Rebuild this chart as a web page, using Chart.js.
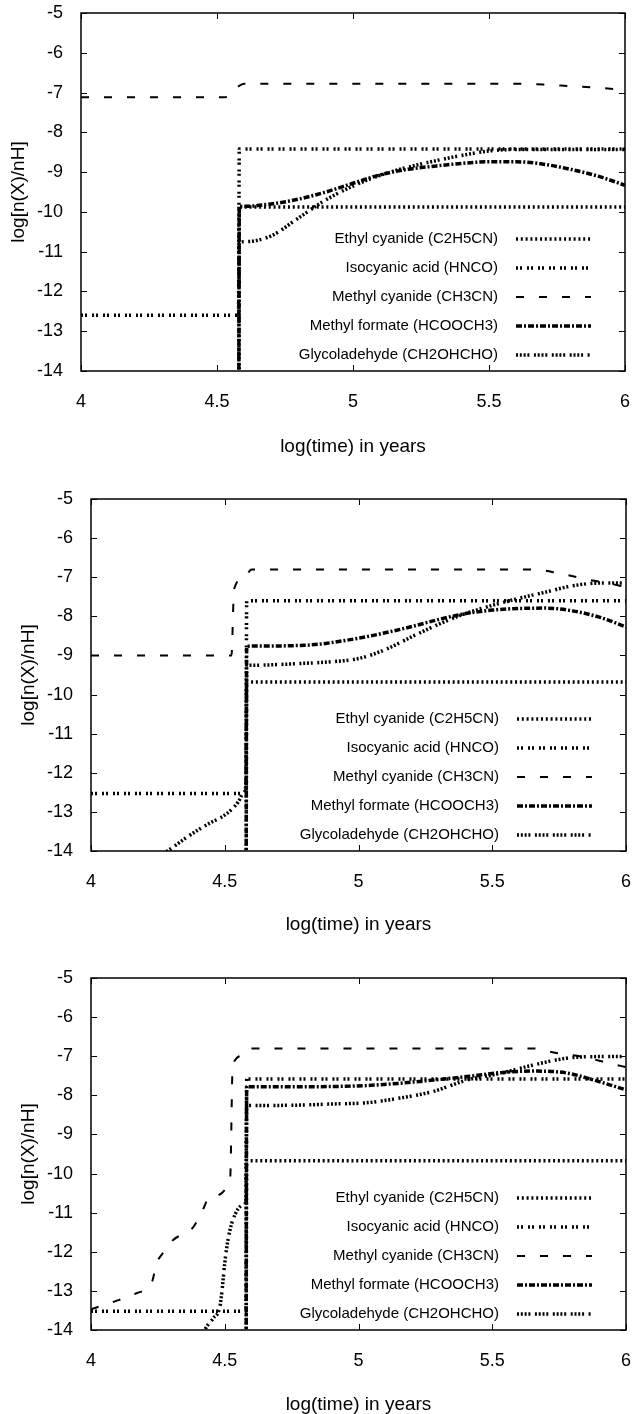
<!DOCTYPE html>
<html>
<head>
<meta charset="utf-8">
<script src="https://cdn.jsdelivr.net/npm/chart.js@4.4.0/dist/chart.umd.min.js"></script>
<style>
  html, body { margin: 0; padding: 0; background: #fff; }
  body { width: 636px; height: 1414px; position: relative; overflow: hidden; }
  .panel { position: absolute; left: 0; width: 636px; }
  canvas { display: block; }
</style>
</head>
<body>
<div class="panel" style="top:0;height:470px"><canvas id="chart1"></canvas></div>
<div class="panel" style="top:470px;height:470px"><canvas id="chart2"></canvas></div>
<div class="panel" style="top:940px;height:480px"><canvas id="chart3"></canvas></div>
<script>
// species names, in the key order
const SPECIES = [
  "Ethyl cyanide (C2H5CN)",
  "Isocyanic acid (HNCO)",
  "Methyl cyanide (CH3CN)",
  "Methyl formate (HCOOCH3)",
  "Glycoladehyde (CH2OHCHO)"
];
const X_TICKS = [4, 4.5, 5, 5.5, 6];
const Y_TICKS = [-14, -13, -12, -11, -10, -9, -8, -7, -6, -5];
const X_TITLE = "log(time) in years";
const Y_TITLE = "log[n(X)/nH]";

// top panel
const P1_C2H5CN_X = [4.579, 4.582, 6.0];
const P1_C2H5CN_Y = [-20, -9.88, -9.88];
const P1_HNCO_X = [4.0, 4.579, 4.582, 6.0];
const P1_HNCO_Y = [-12.6, -12.6, -8.42, -8.42];
const P1_CH3CN_X = [4.0, 4.53, 4.55, 4.575, 4.6, 5.6, 5.7, 5.8, 5.9, 6.0];
const P1_CH3CN_Y = [-7.12, -7.12, -7.0, -6.86, -6.78, -6.78, -6.8, -6.84, -6.88, -6.93];
const P1_HCOOCH3_X = [4.579, 4.582, 4.6, 4.7, 4.8, 4.9, 5.0, 5.1, 5.2, 5.3, 5.4, 5.5, 5.6, 5.7, 5.8, 5.9, 6.0];
const P1_HCOOCH3_Y = [-20, -9.87, -9.86, -9.8, -9.68, -9.5, -9.28, -9.07, -8.93, -8.85, -8.78, -8.74, -8.74, -8.8, -8.93, -9.1, -9.33];
const P1_CH2OHCHO_X = [4.579, 4.582, 4.6, 4.7, 4.8, 4.9, 5.0, 5.1, 5.2, 5.3, 5.4, 5.5, 5.6, 6.0];
const P1_CH2OHCHO_Y = [-20, -10.78, -10.75, -10.6, -10.15, -9.7, -9.35, -9.08, -8.88, -8.72, -8.58, -8.47, -8.43, -8.43];

// middle panel
const P2_C2H5CN_X = [4.579, 4.582, 6.0];
const P2_C2H5CN_Y = [-20, -9.68, -9.68];
const P2_HNCO_X = [4.0, 4.579, 4.582, 6.0];
const P2_HNCO_Y = [-12.53, -12.53, -7.6, -7.6];
const P2_CH3CN_X = [4.0, 4.525, 4.535, 4.575, 4.6, 5.65, 5.75, 5.85, 5.93, 6.0];
const P2_CH3CN_Y = [-9.0, -9.0, -7.3, -7.0, -6.8, -6.8, -6.9, -7.05, -7.15, -7.25];
const P2_HCOOCH3_X = [4.579, 4.582, 4.6, 4.8, 5.0, 5.1, 5.2, 5.3, 5.4, 5.5, 5.6, 5.7, 5.8, 5.9, 6.0];
const P2_HCOOCH3_Y = [-20, -8.78, -8.76, -8.74, -8.56, -8.42, -8.26, -8.08, -7.93, -7.84, -7.8, -7.79, -7.86, -8.02, -8.27];
const P2_CH2OHCHO_X = [4.2, 4.29, 4.36, 4.43, 4.51, 4.55, 4.57, 4.579, 4.582, 4.6, 4.8, 4.9, 5.0, 5.1, 5.2, 5.3, 5.4, 5.5, 5.6, 5.7, 5.8, 5.9, 6.0];
const P2_CH2OHCHO_Y = [-14.35, -13.98, -13.64, -13.34, -13.03, -12.75, -12.52, -12.3, -9.27, -9.25, -9.2, -9.16, -9.08, -8.85, -8.52, -8.2, -7.93, -7.72, -7.54, -7.38, -7.22, -7.15, -7.15];

// bottom panel
const P3_C2H5CN_X = [4.579, 4.582, 6.0];
const P3_C2H5CN_Y = [-20, -9.67, -9.67];
const P3_HNCO_X = [4.0, 4.579, 4.582, 6.0];
const P3_HNCO_Y = [-13.52, -13.52, -7.58, -7.58];
const P3_CH3CN_X = [4.0, 4.097, 4.17, 4.228, 4.245, 4.264, 4.307, 4.38, 4.413, 4.445, 4.52, 4.53, 4.575, 4.6, 5.65, 5.74, 5.84, 5.95, 6.0];
const P3_CH3CN_Y = [-13.47, -13.25, -13.06, -12.77, -12.29, -12.08, -11.7, -11.39, -11.0, -10.6, -10.15, -7.2, -6.97, -6.8, -6.8, -6.92, -7.02, -7.2, -7.28];
const P3_HCOOCH3_X = [4.579, 4.582, 4.6, 4.78, 5.03, 5.155, 5.28, 5.405, 5.53, 5.65, 5.78, 5.88, 6.0];
const P3_HCOOCH3_Y = [-20, -7.78, -7.78, -7.78, -7.75, -7.69, -7.61, -7.52, -7.42, -7.38, -7.43, -7.61, -7.86];
const P3_CH2OHCHO_X = [4.4, 4.426, 4.457, 4.482, 4.49, 4.5, 4.512, 4.53, 4.57, 4.579, 4.582, 4.6, 4.78, 4.905, 5.03, 5.155, 5.28, 5.405, 5.53, 5.65, 5.78, 5.9, 6.0];
const P3_CH2OHCHO_Y = [-14.6, -14.0, -13.7, -13.4, -12.98, -12.29, -11.7, -11.19, -10.8, -10.7, -8.27, -8.26, -8.25, -8.22, -8.19, -8.07, -7.9, -7.61, -7.44, -7.23, -7.05, -7.01, -7.01];

const FONT = '"Liberation Sans", Arial, Helvetica, sans-serif';
Chart.defaults.font.family = FONT;
Chart.defaults.color = "#000";

// gnuplot-like line types, same order as SPECIES
const LINE_STYLES = [
  { width: 3.5, dash: [2, 2.8] },
  { width: 3.5, dash: [2, 2, 2, 5] },
  { width: 2, dash: [8, 15] },
  { width: 3.5, dash: [6, 2, 2, 2] },
  { width: 3.5, dash: [2, 1.8, 2, 1.8, 2, 1.8, 2, 4.5] }
];

const toPoints = (xs, ys) => xs.map((x, i) => ({ x: x, y: ys[i] }));

// box round the plot with inward ticks on all four sides
const framePlugin = {
  id: "frame",
  afterDatasetsDraw(chart) {
    const { ctx, chartArea: a } = chart;
    const xs = chart.scales.x, ys = chart.scales.y;
    ctx.save();
    ctx.strokeStyle = "#000";
    ctx.setLineDash([]);
    ctx.lineWidth = 1;
    ctx.beginPath();
    X_TICKS.forEach(v => {
      const px = Math.round(xs.getPixelForValue(v)) + 0.5;
      ctx.moveTo(px, a.bottom); ctx.lineTo(px, a.bottom - 6);
      ctx.moveTo(px, a.top); ctx.lineTo(px, a.top + 6);
    });
    Y_TICKS.forEach(v => {
      const py = Math.round(ys.getPixelForValue(v)) + 0.5;
      ctx.moveTo(a.left, py); ctx.lineTo(a.left + 6, py);
      ctx.moveTo(a.right, py); ctx.lineTo(a.right - 6, py);
    });
    ctx.stroke();
    ctx.lineWidth = 1.5;
    ctx.strokeRect(a.left, a.top, a.right - a.left, a.bottom - a.top);
    ctx.restore();
  }
};

// key in the lower right corner: text on the left, line sample on the right
const keyPlugin = {
  id: "key",
  afterDraw(chart) {
    const { ctx, chartArea: a } = chart;
    const sets = chart.data.datasets;
    ctx.save();
    ctx.font = "15px " + FONT;
    ctx.fillStyle = "#000";
    ctx.strokeStyle = "#000";
    ctx.textAlign = "right";
    ctx.textBaseline = "middle";
    sets.forEach((ds, i) => {
      const yy = a.bottom - 16 - (sets.length - 1 - i) * 29;
      ctx.fillText(ds.label, a.right - 127, yy);
      ctx.setLineDash(ds.borderDash);
      ctx.lineWidth = ds.borderWidth;
      ctx.lineCap = "butt";
      ctx.beginPath();
      ctx.moveTo(a.right - 109, yy);
      ctx.lineTo(a.right - 34, yy);
      ctx.stroke();
    });
    ctx.restore();
  }
};

function makeChart(id, series, g) {
  const datasets = series.map((s, i) => ({
    label: SPECIES[i],
    data: toPoints(s[0], s[1]),
    borderColor: "#000",
    borderWidth: LINE_STYLES[i].width,
    borderDash: LINE_STYLES[i].dash,
    borderCapStyle: "butt",
    pointRadius: 0,
    fill: false,
    cubicInterpolationMode: "monotone",
    clip: 0
  }));

  return new Chart(document.getElementById(id), {
    type: "line",
    data: { datasets: datasets },
    plugins: [framePlugin, keyPlugin],
    options: {
      responsive: true,
      maintainAspectRatio: false,
      animation: false,
      devicePixelRatio: 1,
      layout: { padding: { top: g.top, right: g.right, bottom: 0, left: 0 } },
      plugins: { legend: { display: false }, tooltip: { enabled: false } },
      scales: {
        x: {
          type: "linear",
          min: 4,
          max: 6,
          afterBuildTicks: s => { s.ticks = X_TICKS.map(v => ({ value: v })); },
          afterFit: s => {
            s.height = g.xh;
            s.paddingLeft = 0;
            s.paddingRight = 0;
          },
          grid: { display: false, drawTicks: false },
          border: { display: false },
          ticks: {
            font: { size: 18 },
            padding: 20,
            maxRotation: 0,
            callback: v => String(v)
          },
          title: {
            display: true,
            text: X_TITLE,
            font: { size: 19 },
            padding: { top: 0, bottom: g.xtb }
          }
        },
        y: {
          type: "linear",
          min: -14,
          max: -5,
          afterBuildTicks: s => { s.ticks = Y_TICKS.map(v => ({ value: v })); },
          afterFit: s => {
            s.width = g.yw;
            s.paddingTop = 0;
            s.paddingBottom = 0;
          },
          grid: { display: false, drawTicks: false },
          border: { display: false },
          ticks: { font: { size: 18 }, padding: 18, callback: v => String(v) },
          title: {
            display: true,
            text: Y_TITLE,
            font: { size: 19 },
            padding: { top: g.ytp, bottom: 0 }
          }
        }
      }
    }
  });
}

makeChart("chart1", [
  [P1_C2H5CN_X, P1_C2H5CN_Y],
  [P1_HNCO_X, P1_HNCO_Y],
  [P1_CH3CN_X, P1_CH3CN_Y],
  [P1_HCOOCH3_X, P1_HCOOCH3_Y],
  [P1_CH2OHCHO_X, P1_CH2OHCHO_Y]
], { top: 13, right: 11, yw: 81, xh: 99, xtb: 12, ytp: 7 });

makeChart("chart2", [
  [P2_C2H5CN_X, P2_C2H5CN_Y],
  [P2_HNCO_X, P2_HNCO_Y],
  [P2_CH3CN_X, P2_CH3CN_Y],
  [P2_HCOOCH3_X, P2_HCOOCH3_Y],
  [P2_CH2OHCHO_X, P2_CH2OHCHO_Y]
], { top: 29, right: 10, yw: 91, xh: 89, xtb: 4, ytp: 17 });

makeChart("chart3", [
  [P3_C2H5CN_X, P3_C2H5CN_Y],
  [P3_HNCO_X, P3_HNCO_Y],
  [P3_CH3CN_X, P3_CH3CN_Y],
  [P3_HCOOCH3_X, P3_HCOOCH3_Y],
  [P3_CH2OHCHO_X, P3_CH2OHCHO_Y]
], { top: 38, right: 10, yw: 91, xh: 90, xtb: 4, ytp: 17 });
</script>
</body>
</html>
